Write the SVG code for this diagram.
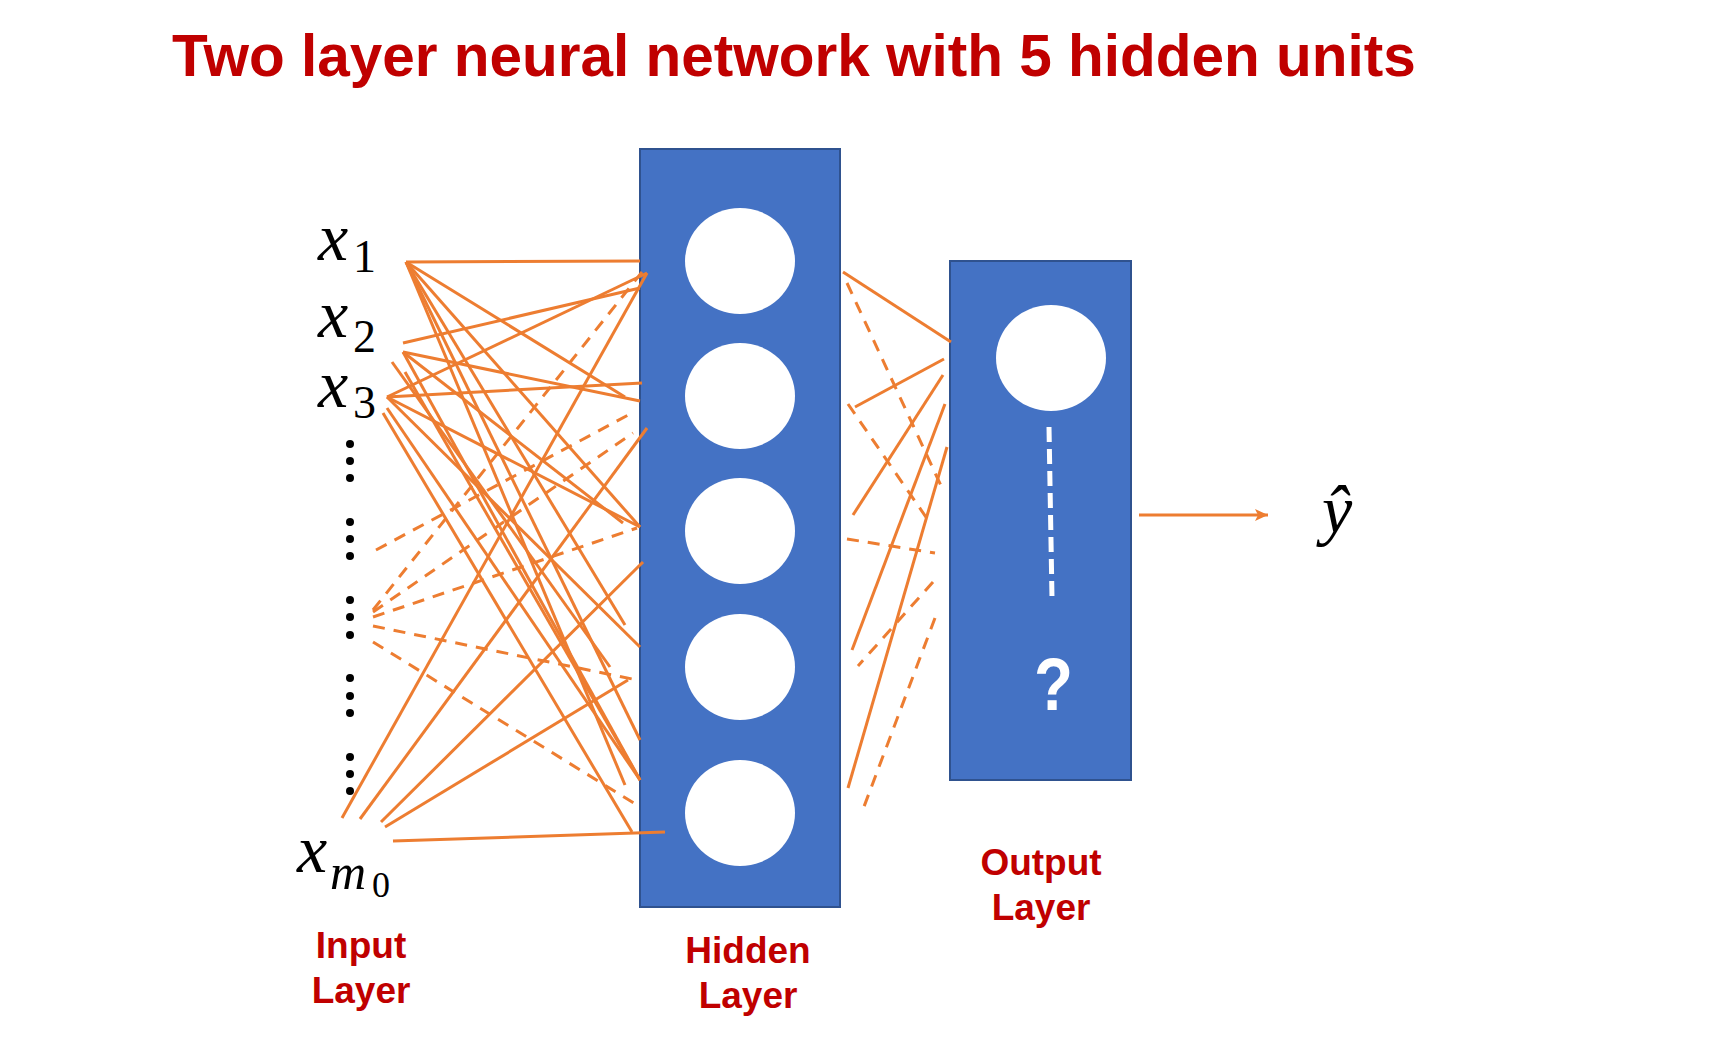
<svg xmlns="http://www.w3.org/2000/svg" width="1710" height="1039" viewBox="0 0 1710 1039">
<style>
.title{font-family:"Liberation Sans",Arial,sans-serif;font-weight:bold;font-size:58.5px;fill:#C00000}
.lbl{font-family:"Liberation Sans",Arial,sans-serif;font-weight:bold;font-size:37px;fill:#C00000;text-anchor:middle}
.math{font-family:"Liberation Serif","Times New Roman",serif;font-style:italic;font-size:68px;fill:#000}
.sub{font-family:"Liberation Serif","Times New Roman",serif;font-size:46px;fill:#000}
.layer{fill:#4472C4;stroke:#2F528F;stroke-width:2}
.unit{fill:#FFFFFF}
.c{stroke:#ED7D31;stroke-width:3;fill:none;stroke-linecap:butt}
.d{stroke:#ED7D31;stroke-width:3;fill:none;stroke-dasharray:12 9}
.dot{fill:#000}
</style>
<defs>
<marker id="arr" markerUnits="userSpaceOnUse" markerWidth="14" markerHeight="12" refX="13" refY="6" orient="auto">
<path d="M0,0 L13,6 L0,12 L3,6 Z" fill="#ED7D31"/>
</marker>
</defs>
<rect width="1710" height="1039" fill="#FFFFFF"/>
<text class="title" x="172" y="76">Two layer neural network with 5 hidden units</text>

<g id="hidden-layer">
<rect class="layer" x="640" y="149" width="200" height="758"/>
</g>
<g id="h1"><ellipse class="unit" cx="740" cy="261" rx="55" ry="53"/></g>
<g id="h2"><ellipse class="unit" cx="740" cy="396" rx="55" ry="53"/></g>
<g id="h3"><ellipse class="unit" cx="740" cy="531" rx="55" ry="53"/></g>
<g id="h4"><ellipse class="unit" cx="740" cy="667" rx="55" ry="53"/></g>
<g id="h5"><ellipse class="unit" cx="740" cy="813" rx="55" ry="53"/></g>

<g id="output-layer">
<rect class="layer" x="950" y="261" width="181" height="519"/>
<ellipse class="unit" cx="1051" cy="358" rx="55" ry="53"/>
<line x1="1049" y1="427" x2="1052" y2="598" stroke="#FFFFFF" stroke-width="5" stroke-dasharray="15 7"/>
<text x="1034" y="710" transform="translate(1034,710) scale(0.85,1) translate(-1034,-710)" font-family="Liberation Sans,Arial,sans-serif" font-weight="bold" font-size="75" fill="#FFFFFF">?</text>
</g>

<g id="input-x1"><text class="math" x="318" y="260">x</text><text class="sub" x="353" y="272">1</text></g>
<g id="input-x2"><text class="math" x="318" y="337">x</text><text class="sub" x="353" y="352">2</text></g>
<g id="input-x3"><text class="math" x="318" y="407">x</text><text class="sub" x="353" y="418">3</text></g>
<g id="input-dots">
<circle class="dot" cx="350" cy="444" r="4"/><circle class="dot" cx="350" cy="461" r="4"/><circle class="dot" cx="350" cy="478" r="4"/>
<circle class="dot" cx="350" cy="522" r="4"/><circle class="dot" cx="350" cy="539" r="4"/><circle class="dot" cx="350" cy="556" r="4"/>
<circle class="dot" cx="350" cy="600" r="4"/><circle class="dot" cx="350" cy="617" r="4"/><circle class="dot" cx="350" cy="635" r="4"/>
<circle class="dot" cx="350" cy="678" r="4"/><circle class="dot" cx="350" cy="696" r="4"/><circle class="dot" cx="350" cy="713" r="4"/>
<circle class="dot" cx="350" cy="757" r="4"/><circle class="dot" cx="350" cy="774" r="4"/><circle class="dot" cx="350" cy="791" r="4"/>
</g>
<g id="input-xm0"><text class="math" x="297" y="872">x</text><text class="math" x="330" y="889" style="font-size:50px">m</text><text class="sub" x="372" y="897" style="font-size:36px">0</text></g>

<g id="yhat"><text class="math" x="1322" y="533" style="font-size:68px">ŷ</text></g>

<g id="labels">
<text class="lbl" x="361" y="958">Input</text>
<text class="lbl" x="361" y="1003">Layer</text>
<text class="lbl" x="748" y="963">Hidden</text>
<text class="lbl" x="748" y="1008">Layer</text>
<text class="lbl" x="1041" y="875">Output</text>
<text class="lbl" x="1041" y="920">Layer</text>
</g>

<g id="connectors">
<line class="c" x1="406" y1="262" x2="640" y2="261"/>
<line class="c" x1="406" y1="262" x2="625" y2="397"/>
<line class="c" x1="406" y1="262" x2="640" y2="527"/>
<line class="c" x1="406" y1="262" x2="625" y2="625"/>
<line class="c" x1="406" y1="262" x2="640" y2="740"/>
<line class="c" x1="406" y1="262" x2="625" y2="785"/>
<line class="c" x1="403" y1="343" x2="640" y2="288"/>
<line class="c" x1="403" y1="352" x2="640" y2="401"/>
<line class="c" x1="403" y1="352" x2="623" y2="523"/>
<line class="c" x1="403" y1="352" x2="640" y2="780"/>
<line class="c" x1="387" y1="397" x2="647" y2="273"/>
<line class="c" x1="387" y1="397" x2="642" y2="383"/>
<line class="c" x1="387" y1="397" x2="640" y2="527"/>
<line class="c" x1="387" y1="397" x2="640" y2="647"/>
<line class="c" x1="392" y1="362" x2="610" y2="667"/>
<line class="c" x1="405" y1="372" x2="640" y2="780"/>
<line class="c" x1="387" y1="408" x2="640" y2="780"/>
<line class="c" x1="383" y1="413" x2="632" y2="832"/>
<line class="c" x1="342" y1="818" x2="647" y2="273"/>
<line class="c" x1="360" y1="819" x2="647" y2="428"/>
<line class="c" x1="381" y1="822" x2="643" y2="562"/>
<line class="c" x1="385" y1="827" x2="628" y2="680"/>
<line class="c" x1="393" y1="841" x2="665" y2="832"/>
<line class="d" x1="376" y1="550" x2="632" y2="413"/>
<line class="d" x1="373" y1="610" x2="642" y2="272"/>
<line class="d" x1="373" y1="612" x2="633" y2="433"/>
<line class="d" x1="373" y1="617" x2="637" y2="528"/>
<line class="d" x1="373" y1="626" x2="637" y2="680"/>
<line class="d" x1="373" y1="642" x2="637" y2="805"/>
<line class="c" x1="843" y1="272" x2="951" y2="342"/>
<line class="c" x1="855" y1="407" x2="944" y2="359"/>
<line class="c" x1="853" y1="515" x2="943" y2="375"/>
<line class="c" x1="945" y1="404" x2="852" y2="650"/>
<line class="c" x1="947" y1="447" x2="848" y2="788"/>
<line class="d" x1="847" y1="283" x2="943" y2="490"/>
<line class="d" x1="848" y1="404" x2="928" y2="520"/>
<line class="d" x1="847" y1="539" x2="935" y2="553"/>
<line class="d" x1="933" y1="582" x2="858" y2="666"/>
<line class="d" x1="935" y1="618" x2="862" y2="812"/>
<line class="c" x1="1139" y1="515" x2="1268" y2="515" marker-end="url(#arr)"/>
</g>
</svg>
